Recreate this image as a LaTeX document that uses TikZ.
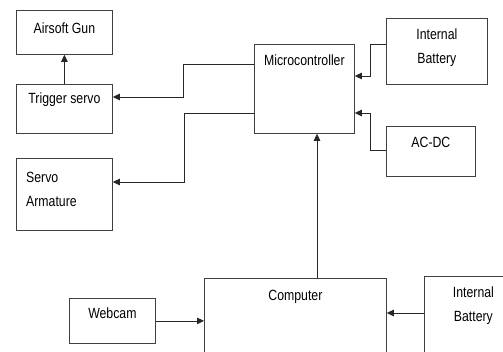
\documentclass[tikz,border=0pt]{standalone}
\usepackage{fontspec}
\setmainfont{Liberation Sans}[FakeStretch=0.83]
\usetikzlibrary{arrows.meta,positioning}

\begin{document}
\begin{tikzpicture}[x=1pt,y=-1pt,
		block/.style={draw=black!75, line width=0.8pt, anchor=north west, inner sep=0pt},
		lbl/.style={font=\fontsize{14.8}{24.5}\selectfont, align=center, inner sep=0pt},
		conn/.style={draw=black!85, line width=0.8pt, -{Triangle[length=7pt,width=6.5pt]}}]
	\clip (0,0) rectangle (503,351);
	\fill[white] (0,0) rectangle (503,351);
	% boxes
	\node[block, minimum width=96pt, minimum height=44pt] (gun) at (16,10) {};
	\node[block, minimum width=96pt, minimum height=49pt] (trig) at (16,84) {};
	\node[block, minimum width=96pt, minimum height=72pt] (arm) at (16,158) {};
	\node[block, minimum width=100pt, minimum height=89pt] (micro) at (254,44) {};
	\node[block, minimum width=101pt, minimum height=66pt] (batt1) at (386,18) {};
	\node[block, minimum width=89pt, minimum height=50pt] (acdc) at (386,126) {};
	\node[block, minimum width=182pt, minimum height=90pt] (comp) at (204,278) {};
	\node[block, minimum width=90pt, minimum height=90pt] (batt2) at (424,276) {};
	\node[block, minimum width=86pt, minimum height=45pt] (cam) at (69,298) {};
	% labels
	\node[lbl, below=12.5pt of gun.north] (gunlbl) {Airsoft Gun};
	\node[lbl, below=8.5pt of trig.north] (triglbl) {Trigger servo};
	\node[lbl, align=left, anchor=north west, below right=13.5pt and 10pt of arm.north west] (armlbl) {Servo\\Armature};
	\node[lbl, below=10.5pt of micro.north] (microlbl) {Microcontroller};
	\node[lbl, below=10.5pt of batt1.north] (batt1lbl) {Internal\\Battery};
	\node[lbl, below=10.5pt of acdc.north] (acdclbl) {AC-DC};
	\node[lbl, below=11.5pt of comp.north] (complbl) {Computer};
	\node[lbl, below=10.5pt of batt2.north, xshift=4pt] (batt2lbl) {Internal\\Battery};
	\node[lbl, below=9.5pt of cam.north] (camlbl) {Webcam};
	% connectors
	\draw[conn] (trig.north) -- (gun.south);
	\draw[conn] ([yshift=-20pt]micro.north west) -- ++(-71,0) |- ([yshift=-13pt]trig.north east);
	\draw[conn] ([yshift=-69pt]micro.north west) -- ++(-70,0) |- ([yshift=-24pt]arm.north east);
	\draw[conn] ([yshift=-26pt]batt1.north west) -- ++(-16,0) |- ([yshift=-32pt]micro.north east);
	\draw[conn] ([yshift=-24pt]acdc.north west) -- ++(-16,0) |- ([yshift=-69pt]micro.north east);
	\coordinate (cup) at ([xshift=113pt]comp.north west);
	\draw[conn] (cup) -- (cup |- micro.south);
	\coordinate (bin) at ([yshift=-37pt]batt2.north west);
	\draw[conn] (bin) -- (bin -| comp.east);
	\draw[conn] (cam.east) -- (cam.east -| comp.west);
\end{tikzpicture}
\end{document}
